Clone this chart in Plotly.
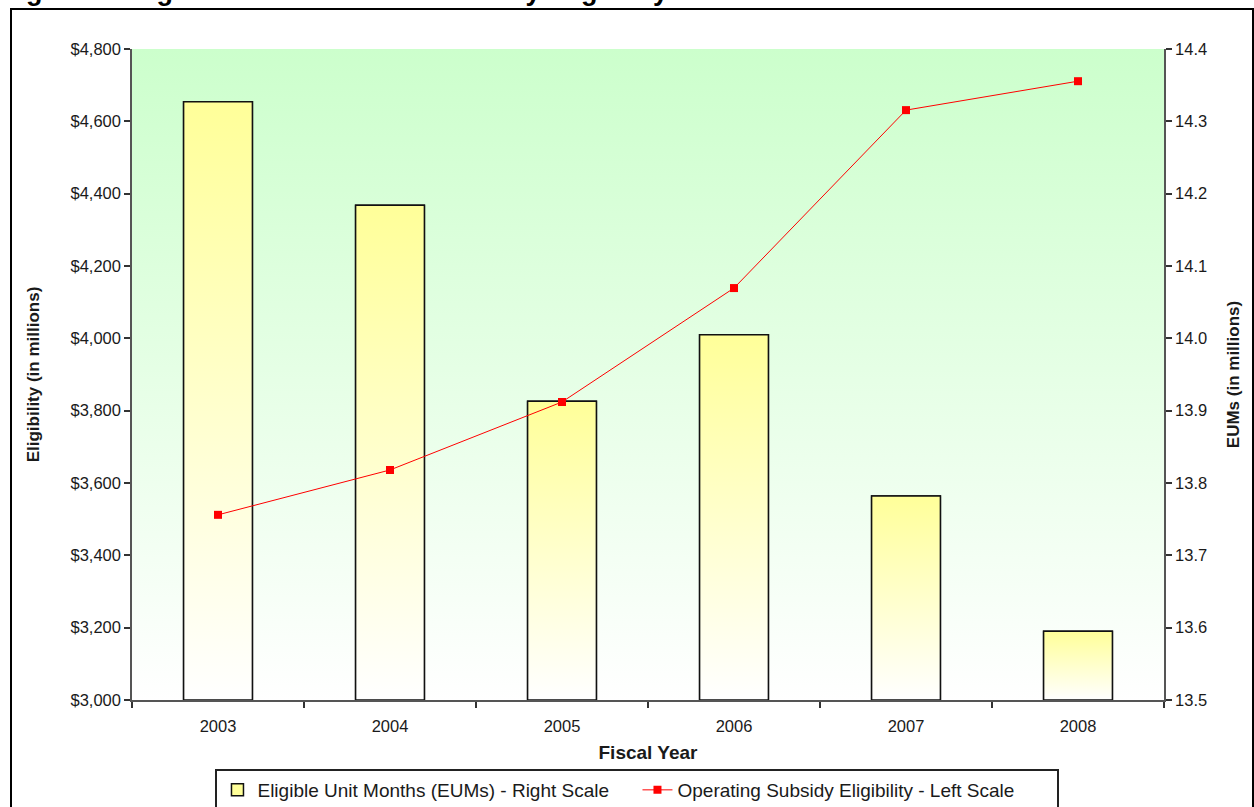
import plotly.graph_objects as go

# Fiscal years and the two series
years = [2003, 2004, 2005, 2006, 2007, 2008]
eums_millions = [14.327, 14.184, 13.913, 14.005, 13.782, 13.595]          # right scale
eligibility_millions = [3512, 3636, 3824, 4139, 4631, 4711]               # left scale

eum_range = [13.5, 14.4]
dollar_range = [3000, 4800]
x_range = [years[0] - 0.5, years[-1] + 0.5]
bar_width = 0.4

FONT = "Arial, Liberation Sans, sans-serif"
TXT = "#1a1a1a"
TICK_SIZE = 16.5

fig = go.Figure()

# Plot-area background (hidden base axis): light green fading to white
fig.add_trace(go.Scatter(
    x=[x_range[0], x_range[1], x_range[1], x_range[0], x_range[0]],
    y=[0, 0, 1, 1, 0],
    mode="lines", line=dict(width=0), fill="toself",
    fillgradient=dict(type="vertical", colorscale=[[0, "#ffffff"], [1, "#ccffcc"]]),
    hoverinfo="skip", showlegend=False, xaxis="x", yaxis="y",
))

# EUM bars (right scale)
fig.add_trace(go.Bar(
    x=years, y=eums_millions, width=bar_width,
    marker=dict(color="#ffff99", line=dict(color="#111111", width=1.5)),
    name="Eligible Unit Months (EUMs) - Right Scale",
    xaxis="x", yaxis="y2",
))

# Yellow-to-white shading laid over each bar
for yr, v in zip(years, eums_millions):
    x0, x1 = yr - bar_width / 2, yr + bar_width / 2
    fig.add_trace(go.Scatter(
        x=[x0, x0, x1, x1, x0],
        y=[eum_range[0], v, v, eum_range[0], eum_range[0]],
        mode="lines", line=dict(color="#111111", width=1.5), fill="toself",
        fillgradient=dict(type="vertical", colorscale=[[0, "#ffffff"], [1, "#ffff99"]]),
        hoverinfo="skip", showlegend=False, xaxis="x", yaxis="y2",
    ))

# Operating subsidy eligibility line (left scale)
fig.add_trace(go.Scatter(
    x=years, y=eligibility_millions,
    mode="lines+markers",
    line=dict(color="#ff0000", width=1),
    marker=dict(symbol="square", size=8, color="#ff0000"),
    name="Operating Subsidy Eligibility - Left Scale",
    xaxis="x", yaxis="y3",
))

axis_common = dict(
    showgrid=False, zeroline=False, automargin=False,
    showline=True, linecolor="#555555", linewidth=1.5,
    ticks="outside", ticklen=6, tickcolor="#333333", tickwidth=1.5,
    tickfont=dict(size=TICK_SIZE, family=FONT, color=TXT),
)

fig.update_layout(
    width=1254, height=807,
    margin=dict(l=132, r=90, t=49, b=107, autoexpand=False),
    paper_bgcolor="white", plot_bgcolor="white",
    font=dict(family=FONT, color=TXT, size=13),
    xaxis=dict(
        range=x_range, tickmode="array", tickvals=years,
        ticktext=[str(y) for y in years], ticks="",
        showgrid=False, zeroline=False, automargin=False,
        showline=True, linecolor="#555555", linewidth=1.5,
        tickfont=dict(size=TICK_SIZE, family=FONT, color=TXT),
        ticklabelstandoff=10,
        minor=dict(tickmode="linear", tick0=x_range[0], dtick=1, ticks="outside",
                   ticklen=6, tickcolor="#333333", tickwidth=1.5, showgrid=False),
        title=dict(text="<b>Fiscal Year</b>", font=dict(size=19, family=FONT, color=TXT),
                   standoff=12),
    ),
    yaxis=dict(range=[0, 1], visible=False, fixedrange=True),
    yaxis2=dict(
        overlaying="y", side="right", range=eum_range, dtick=0.1, tickformat=".1f",
        title=dict(text="<b>EUMs (in millions)</b>", font=dict(size=17, family=FONT, color=TXT),
                   standoff=21),
        **axis_common,
    ),
    yaxis3=dict(
        overlaying="y", side="left", range=dollar_range, dtick=200,
        tickprefix="$", tickformat=",d",
        title=dict(text="<b>Eligibility (in millions)</b>", font=dict(size=17, family=FONT, color=TXT),
                   standoff=27),
        **axis_common,
    ),
    legend=dict(
        orientation="h", x=0.4898, xanchor="center", y=-0.106, yanchor="top",
        bgcolor="white", bordercolor="#222222", borderwidth=2,
        font=dict(size=19, family=FONT, color=TXT),
        itemwidth=30, entrywidth=375, entrywidthmode="pixels",
    ),
    showlegend=True,
)

# Figure caption at the top of the page
fig.add_annotation(
    text="<b>Figure 5: Eligible Unit Months vs. Subsidy Eligibility</b>",
    xref="paper", yref="paper", x=(0 - 132) / 1032, y=(700 - 8) / 651,
    xanchor="left", yanchor="bottom", showarrow=False,
    font=dict(size=27, family=FONT, color="black"),
)

# Outer frame around the chart
fig.add_shape(
    type="rect", xref="paper", yref="paper",
    x0=(11 - 132) / 1032, x1=(1253 - 132) / 1032,
    y0=(700 - 830) / 651, y1=(700 - 9) / 651,
    line=dict(color="black", width=2), fillcolor="rgba(0,0,0,0)", layer="below",
)

fig.write_html("out.html")
